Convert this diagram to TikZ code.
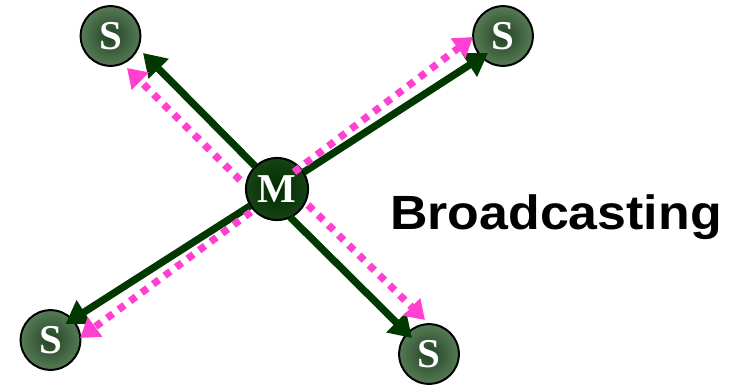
\documentclass[tikz,border=0pt]{standalone}
\usepackage{fontspec}
\setmainfont{Liberation Serif}
\newfontfamily\titlefont[FakeStretch=1.08]{Liberation Sans}
\usepackage{tikz}
\usetikzlibrary{arrows.meta}
\usetikzlibrary{calc}
\definecolor{darkgreen}{RGB}{0,56,0}
\definecolor{castpink}{RGB}{255,64,208}
\definecolor{slaveinner}{RGB}{34,66,34}
\definecolor{slaveouter}{RGB}{86,122,86}
\definecolor{masterinner}{RGB}{0,44,0}
\definecolor{masterouter}{RGB}{22,66,22}

\begin{document}
\begin{tikzpicture}[x=0.03cm, y=-0.03cm,
        slave/.style={circle, draw=black, line width=1.7pt, minimum size=51pt, inner sep=0pt,
            inner color=slaveinner, outer color=slaveouter, text=white,
            font=\bfseries\fontsize{35}{35}\selectfont},
        master/.style={slave, minimum size=53pt, inner color=masterinner, outer color=masterouter},
        sendline/.style={draw=darkgreen, line width=6.2pt, -{Triangle[length=19pt, width=23pt]}},
        replyline/.style={draw=castpink, line width=6.2pt, dash pattern=on 6.2pt off 6pt,
            -{Triangle[length=16pt, width=20pt]}}]
        \useasboundingbox (0,0) rectangle (738,386);
        \node[master] (M) at (277,189) {M};
        \node[slave] (S1) at (110.5,36) {S};
        \node[slave] (S2) at (503,36) {S};
        \node[slave] (S3) at (50.5,340) {S};
        \node[slave] (S4) at (429,354) {S};
        % master to slaves
        \draw[sendline] ($(M)+(-22,-23)$) -- ($(S1)+(32.5,17)$);
        \draw[sendline] ($(M)+(27,-17)$) -- ($(S2)+(-15,17)$);
        \draw[sendline] ($(M)+(-27,17)$) -- ($(S3)+(15,-16)$);
        \draw[sendline] ($(M)+(13,28)$) -- ($(S4)+(-17,-16)$);
        % dotted ones
        \draw[replyline] ($(M)+(-37,-9)$) -- ($(S1)+(16.5,32)$);
        \draw[replyline] ($(M)+(17,-17)$) -- ($(S2)+(-30,1)$);
        \draw[replyline] ($(M)+(-26,23)$) -- ($(S3)+(29.5,-2)$);
        \draw[replyline] ($(M)+(31,16)$) -- ($(S4)+(-4,-34)$);
        \node[anchor=base west, inner sep=0pt, font=\titlefont\bfseries\fontsize{41}{41}\selectfont] (title) at (390,229) {Broadcasting};
    \end{tikzpicture}
\end{document}
